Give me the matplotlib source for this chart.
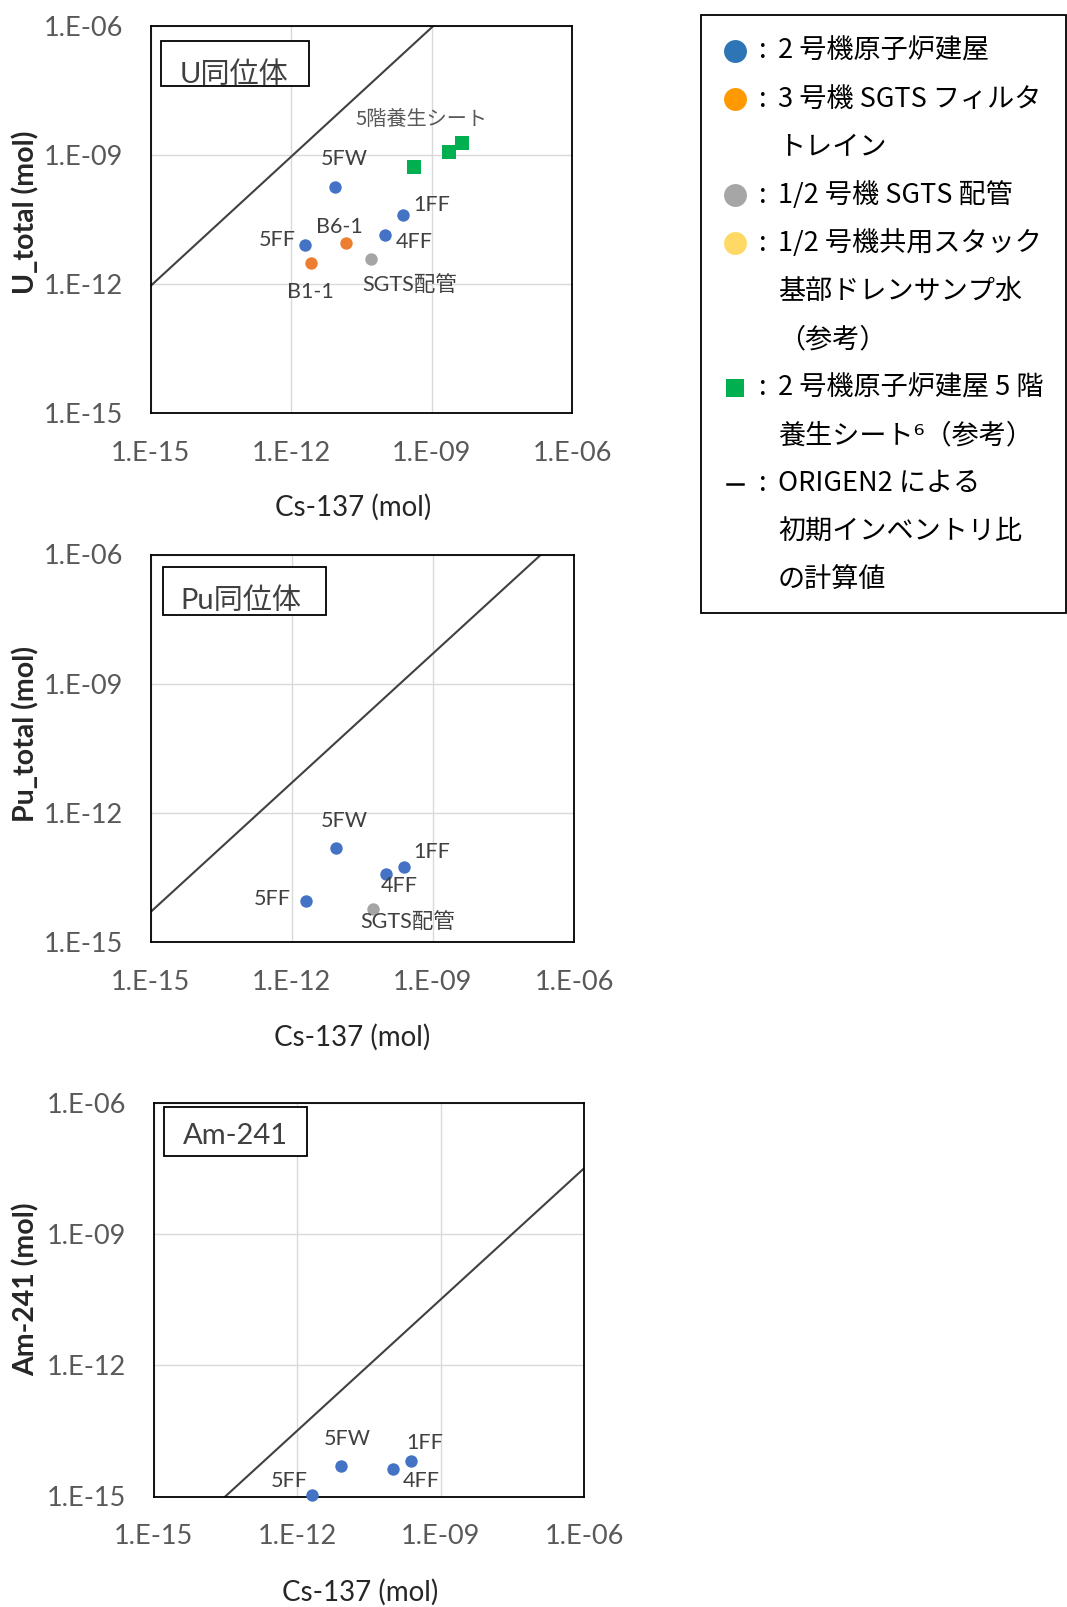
import numpy as np
import matplotlib.pyplot as plt
from matplotlib.patches import Rectangle
from matplotlib.lines import Line2D

plt.rcParams['font.family'] = ['Lato', 'Noto Sans CJK JP', 'DejaVu Sans']

# --- data (mol) ---
# U isotopes vs Cs-137
u_names = ['5FW', '1FF', '4FF', '5FF', 'SGTS配管', 'B6-1', 'B1-1']
u_groups = ['r2', 'r2', 'r2', 'r2', 'sgts12', 'sgts3', 'sgts3']
u_cs = [8.5e-12, 2.45e-10, 1.0e-10, 2.0e-12, 5.2e-11, 1.5e-11, 2.6e-12]
u_total = [1.8e-10, 4.0e-11, 1.4e-11, 8.1e-12, 3.7e-12, 8.9e-12, 3.1e-12]
sheet_cs = [4.2e-10, 2.4e-9, 4.4e-9]
sheet_u = [5.2e-10, 1.15e-9, 1.9e-9]

# Pu isotopes vs Cs-137
pu_names = ['5FW', '1FF', '4FF', '5FF', 'SGTS配管']
pu_groups = ['r2', 'r2', 'r2', 'r2', 'sgts12']
pu_cs = [8.5e-12, 2.45e-10, 1.0e-10, 2.0e-12, 5.3e-11]
pu_total = [1.5e-13, 5.6e-14, 3.7e-14, 9.1e-15, 5.9e-15]

# Am-241 vs Cs-137
am_names = ['5FW', '1FF', '4FF', '5FF']
am_groups = ['r2', 'r2', 'r2', 'r2']
am_cs = [8.3e-12, 2.45e-10, 1.0e-10, 2.0e-12]
am_241 = [4.9e-15, 6.5e-15, 4.2e-15, 1.1e-15]

# ORIGEN2 initial inventory ratio (nuclide / Cs-137)
u_ratio = 900
pu_ratio = 5.0
am_ratio = 0.032

ticks = [1e-15, 1e-12, 1e-9, 1e-6]
tick_labels = ['1.E-15', '1.E-12', '1.E-09', '1.E-06']

# --- styles ---
colors = {'r2': '#4472C4', 'sgts3': '#ED7D31', 'sgts12': '#A5A5A5', 'sheet': '#00B050'}
W, H = 1067, 1607

# label offsets in pixels (right, up)
u_offsets = [(10, 28), (29, 10), (29, -7), (-28, 5), (38, -26), (-7, 16), (0, -29)]
pu_offsets = [(9, 27), (28, 15), (13, -12), (-34, 2), (35, -14)]
am_offsets = [(6, 27), (13, 18), (28, -12), (-22, 14)]

fig = plt.figure(figsize=(W / 100, H / 100), dpi=100)


def make_panel(rect, xs, ys, names, groups, offsets, ratio, box, box_text, box_xy, ylabel,
               xlab_pos, ylab_pos):
    ax = fig.add_axes(rect)
    ax.set_xscale('log')
    ax.set_yscale('log')
    ax.set_xlim(1e-15, 1e-6)
    ax.set_ylim(1e-15, 1e-6)
    ax.set_xticks(ticks)
    ax.set_yticks(ticks)
    ax.set_xticklabels(tick_labels)
    ax.set_yticklabels(tick_labels)
    ax.minorticks_off()
    ax.tick_params(length=0, pad=20, labelsize=19.5, labelcolor='#595959')
    ax.grid(True, color='#D9D9D9', lw=1.0)
    ax.set_axisbelow(True)
    for s in ax.spines.values():
        s.set_color('black')
        s.set_linewidth(1.3)

    # ORIGEN2 line
    lx = np.logspace(-15, -6, 50)
    ax.plot(lx, lx * ratio, color='#404040', lw=1.5, zorder=2)

    for x, y, n, g, (dx, dy) in zip(xs, ys, names, groups, offsets):
        ax.scatter(x, y, s=80, color=colors[g], zorder=3, clip_on=False, linewidths=0)
        ax.annotate(n, (x, y), xytext=(dx * 0.72, dy * 0.72), textcoords='offset points',
                    ha='center', va='center', fontsize=15.5, color='#404040')

    x0, y0, x1, y1 = box
    ax.add_patch(Rectangle((x0, y0), x1 - x0, y1 - y0, transform=ax.transAxes,
                           facecolor='white', edgecolor='black', lw=1.3, zorder=4))
    ax.text(box_xy[0], box_xy[1], box_text, transform=ax.transAxes, ha='center', va='center',
            fontsize=21, color='#404040', zorder=5)

    ax.set_xlabel('Cs-137 (mol)', fontsize=20, color='#262626')
    ax.set_ylabel(ylabel, fontsize=20.5, fontweight='bold', color='#262626')
    ax.xaxis.label.set_va('center')
    ax.yaxis.label.set_va('center')
    ax.xaxis.set_label_coords(*xlab_pos)
    ax.yaxis.set_label_coords(*ylab_pos)
    return ax


def fig_rect(left, top, right, bottom):
    return [left / W, 1 - bottom / H, (right - left) / W, (bottom - top) / H]


ax1 = make_panel(fig_rect(150.7, 25.6, 572, 413), u_cs, u_total, u_names, u_groups, u_offsets,
                 u_ratio, (0.0244, 0.844, 0.3746, 0.960), 'U同位体', (0.198, 0.873),
                 'U_total (mol)', (0.48, -0.243), (-0.297, 0.519))
ax1.scatter(sheet_cs, sheet_u, s=90, marker='s', color=colors['sheet'], zorder=3, linewidths=0)
ax1.annotate('5階養生シート', (sheet_cs[1], sheet_u[1]), xytext=(-28 * 0.72, 33 * 0.72),
             textcoords='offset points', ha='center', va='center', fontsize=14.5,
             color='#595959', family=['Noto Sans CJK JP', 'DejaVu Sans'])

ax2 = make_panel(fig_rect(150.7, 554.5, 574, 942), pu_cs, pu_total, pu_names, pu_groups, pu_offsets,
                 pu_ratio, (0.029, 0.844, 0.414, 0.968), 'Pu同位体', (0.214, 0.880),
                 'Pu_total (mol)', (0.477, -0.245), (-0.2955, 0.537))

ax3 = make_panel(fig_rect(153.8, 1103, 584, 1496.5), am_cs, am_241, am_names, am_groups, am_offsets,
                 am_ratio, (0.0237, 0.865, 0.357, 0.990), 'Am-241', (0.190, 0.915),
                 'Am-241 (mol)', (0.479, -0.243), (-0.298, 0.526))

# --- legend box (right) ---
legend_rows = [
    ('o', '#2E75B6', '2 号機原子炉建屋'),
    ('o', '#FF9900', '3 号機 SGTS フィルタ'),
    (None, None, 'トレイン'),
    ('o', '#A6A6A6', '1/2 号機 SGTS 配管'),
    ('o', '#FFD966', '1/2 号機共用スタック'),
    (None, None, '基部ドレンサンプ水'),
    (None, None, '（参考）'),
    ('s', '#00B050', '2 号機原子炉建屋 5 階'),
    (None, None, '養生シート⁶（参考）'),
    ('-', '#000000', 'ORIGEN2 による'),
    (None, None, '初期インベントリ比'),
    (None, None, 'の計算値'),
]

fig.add_artist(Rectangle((701 / W, 1 - 613 / H), (1065.5 - 701) / W, (613 - 15) / H,
                         transform=fig.transFigure, facecolor='none', edgecolor='black', lw=1.3))

row_y = np.linspace(51, 580, len(legend_rows))
jp = ['Noto Sans CJK JP', 'DejaVu Sans']
for (mk, col, txt), py in zip(legend_rows, row_y):
    fy = 1 - py / H
    if mk == 'o':
        fig.add_artist(Line2D([735 / W], [fy], marker='o', markersize=16.5, color=col,
                              markeredgewidth=0, transform=fig.transFigure))
    elif mk == 's':
        fig.add_artist(Line2D([735 / W], [fy], marker='s', markersize=13, color=col,
                              markeredgewidth=0, transform=fig.transFigure))
    elif mk == '-':
        fig.add_artist(Line2D([727 / W, 743 / W], [fy, fy], color=col, lw=1.8,
                              transform=fig.transFigure))
    if mk is not None:
        fig.text(763 / W, fy, ':', ha='center', va='center', fontsize=19.5, color='black', family=jp)
    fig.text(778 / W, fy, txt, ha='left', va='center', fontsize=19.5, color='black', family=jp)

fig.savefig('out.png', dpi=100)
